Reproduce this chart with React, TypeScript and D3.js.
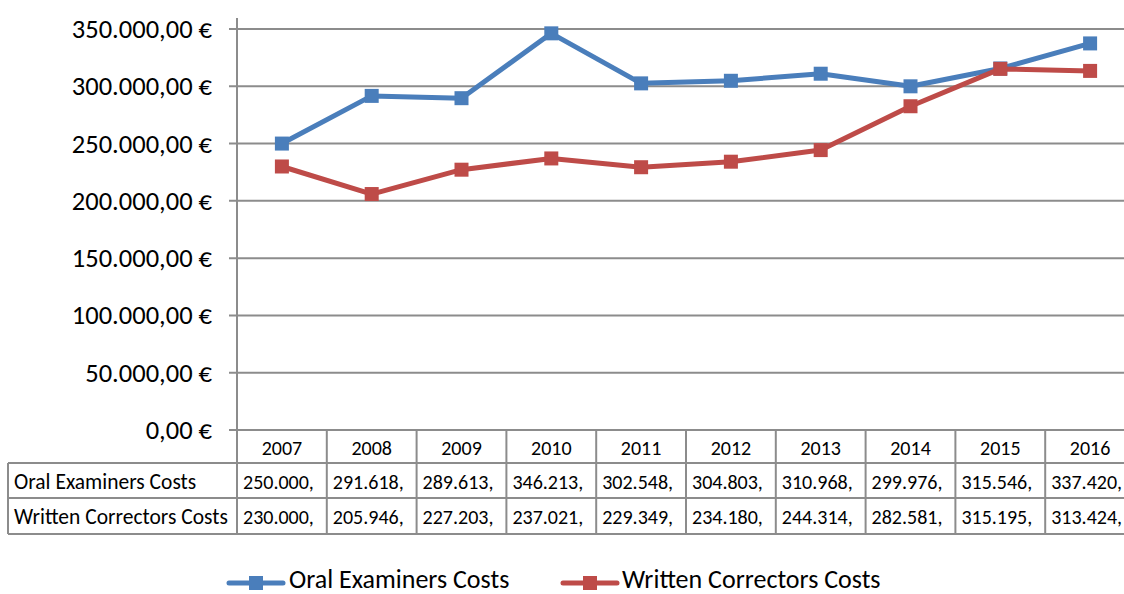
import * as d3 from 'd3'
import { type ReactElement } from 'react'

const years = ['2007', '2008', '2009', '2010', '2011', '2012', '2013', '2014', '2015', '2016']
const oralCosts = [250000, 291618, 289613, 346213, 302548, 304803, 310968, 299976, 315546, 337420]
const writtenCosts = [230000, 205946, 227203, 237021, 229349, 234180, 244314, 282581, 315195, 313424]
const yTicks = [0, 50000, 100000, 150000, 200000, 250000, 300000, 350000]

const seriesList = [
  { name: 'Oral Examiners Costs', values: oralCosts, color: '#4a7ebb' },
  { name: 'Written Correctors Costs', values: writtenCosts, color: '#be4b48' },
]

const width = 1124
const height = 594
const fontFamily = 'Carlito, Calibri, Lato, sans-serif'
const gridColor = '#8c8c8c'

const plotLeft = 237
const plotTop = 29
const plotBottom = 430
const tableLeft = 8
const rowBottoms = [463, 498, 534]

// Excel-ish: 250.000,00 € -> cell only shows "250.000,"
const euro = (v: number) => {
  const s = d3.format(',.2f')(v).replace(/,/g, '#').replace('.', ',').replace(/#/g, '.')
  return `${s} €`
}
const cellText = (v: number) => {
  const s = euro(v)
  return s.slice(0, s.indexOf(',') + 1)
}

export default function App(): ReactElement {
  const x = d3.scaleBand<string>().domain(years).range([plotLeft, plotLeft + 898])
  const y = d3.scaleLinear().domain([0, 350000]).range([plotBottom, plotTop])
  const cx = (yr: string) => (x(yr) ?? 0) + x.bandwidth() / 2

  const line = d3
    .line<number>()
    .x((_, i) => cx(years[i]!))
    .y((d) => y(d))

  const colEdges = years.map((yr) => x(yr) ?? 0).concat([plotLeft + 898])
  const marker = 14

  const legendItems = [
    { lineX: 229, textX: 289 },
    { lineX: 563, textX: 622 },
  ]

  return (
    <svg
      width={width}
      height={height}
      style={{ position: 'fixed', left: 0, top: 0, background: '#fff' }}
      fontFamily={fontFamily}
    >
      {/* gridlines + y ticks */}
      {yTicks.map((t) => (
        <g key={t}>
          <line x1={plotLeft - 8} x2={width} y1={y(t)} y2={y(t)} stroke={gridColor} strokeWidth={2} />
          <text
            x={212}
            y={y(t)}
            textAnchor="end"
            dominantBaseline="central"
            fontSize={26.5}
            fill="#000"
          >
            {euro(t)}
          </text>
        </g>
      ))}
      <line x1={plotLeft} x2={plotLeft} y1={18} y2={plotBottom} stroke={gridColor} strokeWidth={2} />

      {/* data table */}
      <g stroke={gridColor} strokeWidth={2}>
        {rowBottoms.map((rb) => (
          <line key={rb} x1={tableLeft} x2={width} y1={rb} y2={rb} />
        ))}
        {colEdges.map((cxEdge) => (
          <line key={cxEdge} x1={cxEdge} x2={cxEdge} y1={plotBottom} y2={rowBottoms[2]} />
        ))}
        <line x1={tableLeft} x2={tableLeft} y1={rowBottoms[0]} y2={rowBottoms[2]} />
      </g>
      {years.map((yr) => (
        <text
          key={yr}
          x={cx(yr)}
          y={(plotBottom + rowBottoms[0]!) / 2 + 1}
          textAnchor="middle"
          dominantBaseline="central"
          fontSize={20}
        >
          {yr}
        </text>
      ))}
      {seriesList.map((s, r) => {
        const top = rowBottoms[r]!
        const mid = (top + rowBottoms[r + 1]!) / 2 + 1
        return (
          <g key={s.name} fontSize={20}>
            <text x={tableLeft + 6} y={mid} dominantBaseline="central" fontSize={21.5}>
              {s.name}
            </text>
            {s.values.map((v, i) => (
              <text key={i} x={(x(years[i]!) ?? 0) + 6} y={mid} dominantBaseline="central">
                {cellText(v)}
              </text>
            ))}
          </g>
        )
      })}

      {/* series */}
      {seriesList.map((s) => (
        <g key={s.name}>
          <path d={line(s.values) ?? ''} fill="none" stroke={s.color} strokeWidth={5} strokeLinejoin="round" />
          {s.values.map((v, i) => (
            <rect
              key={i}
              x={cx(years[i]!) - marker / 2}
              y={y(v) - marker / 2}
              width={marker}
              height={marker}
              fill={s.color}
            />
          ))}
        </g>
      ))}

      {/* legend */}
      {seriesList.map((s, i) => {
        const item = legendItems[i]!
        return (
          <g key={s.name}>
            <line
              x1={item.lineX}
              x2={item.lineX + 54}
              y1={583}
              y2={583}
              stroke={s.color}
              strokeWidth={5}
              strokeLinecap="round"
            />
            <rect x={item.lineX + 27 - marker / 2} y={583 - marker / 2} width={marker} height={marker} fill={s.color} />
            <text x={item.textX} y={579} dominantBaseline="central" fontSize={26}>
              {s.name}
            </text>
          </g>
        )
      })}
    </svg>
  )
}
